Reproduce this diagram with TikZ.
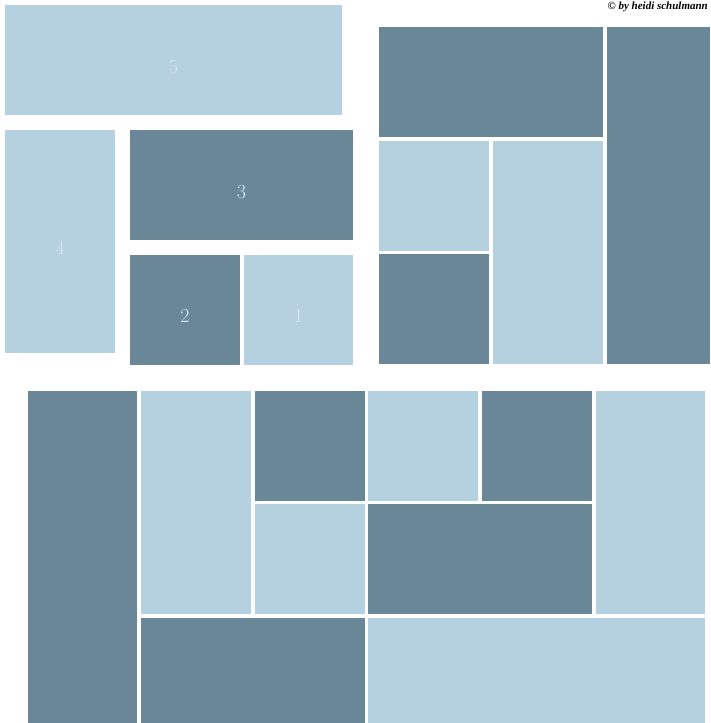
\documentclass[tikz,border=0pt]{standalone}
\usepackage{fontspec}
\newfontfamily\sigfont{Liberation Serif}
\definecolor{dk}{HTML}{6A8798}
\definecolor{lt}{HTML}{B5D0DE}
\definecolor{num}{HTML}{DCE8EF}
\begin{document}
\begin{tikzpicture}[x=1pt,y=-1pt,
  tile/.style={rectangle, inner sep=0pt, outer sep=0pt, anchor=north west},
  dtile/.style={tile, fill=dk},
  ltile/.style={tile, fill=lt},
  lab/.style={text=num, font=\fontsize{20}{20}\selectfont}]
\fill[white] (0,0) rectangle (710,723);
\useasboundingbox (0,0) rectangle (710,723);
% top-left group
\node[ltile, minimum width=337, minimum height=110] (t5) at (5,5) {};
\node[ltile, minimum width=110, minimum height=223] (t4) at (5,130) {};
\node[dtile, minimum width=223, minimum height=110] (t3) at (130,130) {};
\node[dtile, minimum width=110, minimum height=110] (t2) at (130,255) {};
\node[ltile, minimum width=109, minimum height=110] (t1) at (244,255) {};
\node[lab] (l5) at ([yshift=-7pt]t5.center) {5};
\node[lab] (l4) at ([yshift=-6pt]t4.center) {4};
\node[lab] (l3) at ([yshift=-7pt]t3.center) {3};
\node[lab] (l2) at ([yshift=-6pt]t2.center) {2};
\node[lab] (l1) at ([yshift=-6pt]t1.center) {1};
% top-right group
\node[dtile, minimum width=224, minimum height=110] (a1) at (379,27) {};
\node[dtile, minimum width=103, minimum height=337] (a2) at (607,27) {};
\node[ltile, minimum width=110, minimum height=110] (a3) at (379,141) {};
\node[dtile, minimum width=110, minimum height=110] (a4) at (379,254) {};
\node[ltile, minimum width=110, minimum height=223] (a5) at (493,141) {};
% bottom group
\node[dtile, minimum width=109, minimum height=332] (b1) at (28,391) {};
\node[ltile, minimum width=110, minimum height=223] (b2) at (141,391) {};
\node[dtile, minimum width=110, minimum height=110] (b3) at (255,391) {};
\node[ltile, minimum width=110, minimum height=110] (b4) at (255,504) {};
\node[dtile, minimum width=224, minimum height=105] (b5) at (141,618) {};
\node[ltile, minimum width=110, minimum height=110] (b6) at (368,391) {};
\node[dtile, minimum width=110, minimum height=110] (b7) at (482,391) {};
\node[ltile, minimum width=109, minimum height=223] (b8) at (596,391) {};
\node[dtile, minimum width=224, minimum height=110] (b9) at (368,504) {};
\node[ltile, minimum width=337, minimum height=105] (b10) at (368,618) {};
% signature
\node[anchor=north east, inner sep=0pt, font=\sigfont\itshape\bfseries\fontsize{11}{11}\selectfont] (sig) at (708,2) {\textcopyright\ by heidi schulmann};
\end{tikzpicture}
\end{document}
